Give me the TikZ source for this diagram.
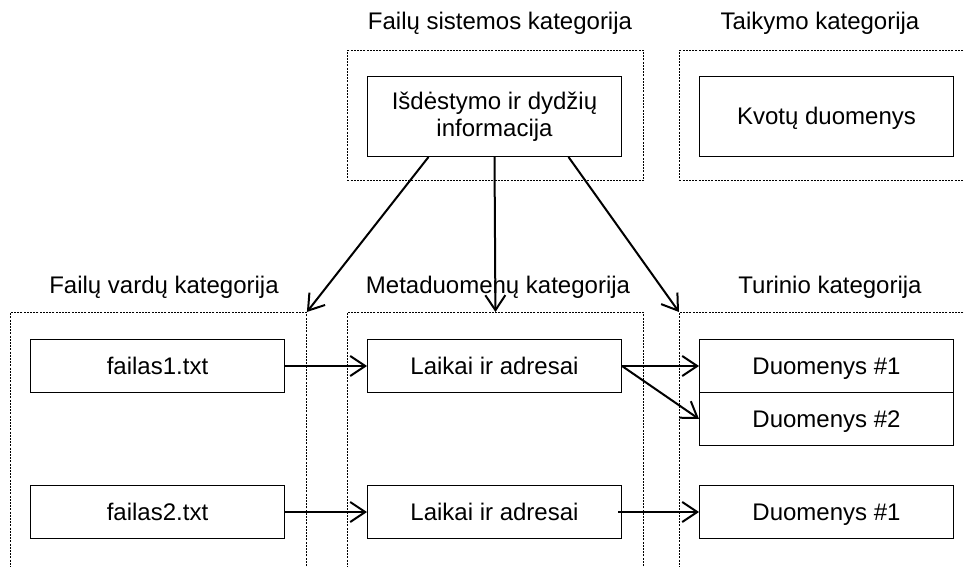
\documentclass[tikz,border=0pt]{standalone}
\usepackage{fontspec}
\setmainfont{Liberation Sans}
\usetikzlibrary{arrows.meta,calc}

\begin{document}
\begin{tikzpicture}[x=1pt,y=-1pt,
  txt/.style={font=\fontsize{24}{27}\selectfont},
  box/.style={txt, draw, line width=1pt, minimum width=254pt, minimum height=53pt,
              inner sep=0pt, align=center, anchor=north west,
              text height=17pt, text depth=0pt},
  zone/.style={draw, line width=0.9pt, dash pattern=on 2pt off 1.2pt,
               minimum width=296pt, inner sep=0pt, anchor=north west},
  title/.style={txt, inner sep=0pt, anchor=base},
  link/.style={line width=2pt, -{Straight Barb[length=15pt,width=20pt,line width=2pt]}}
]
\useasboundingbox (0,0) rectangle (964,567);
\clip (0,0) rectangle (964,567);

% category frames
\node[zone, minimum height=130pt] (zfs) at (347,50) {};
\node[zone, minimum height=130pt, minimum width=320pt] (zapp) at (679,50) {};
\node[zone, minimum height=300pt] (znames) at (10,312) {};
\node[zone, minimum height=300pt] (zmeta) at (347,312) {};
\node[zone, minimum height=300pt, minimum width=320pt] (zcont) at (679,312) {};

% category titles
\node[title] (tfs) at (500,30) {Failų sistemos kategorija};
\node[title] (tapp) at (820,30) {Taikymo kategorija};
\node[title] (tnames) at (164,293) {Failų vardų kategorija};
\node[title] (tmeta) at (498,293) {Metaduomenų kategorija};
\node[title] (tcont) at (830,293) {Turinio kategorija};

% data boxes
\node[box, minimum height=80pt, text height={}, text depth={}] (info) at (367,76)
  {Išdėstymo ir dydžių\\informacija};
\node[box, minimum height=80pt] (quota) at (699,76) {Kvotų duomenys};

\node[box] (f1) at (30,339) {failas1.txt};
\node[box] (f2) at (30,485) {failas2.txt};
\node[box] (l1) at (367,339) {Laikai ir adresai};
\node[box] (l2) at (367,485) {Laikai ir adresai};
\node[box] (d1) at (699,339) {Duomenys \#1};
\node[box] (d2) at (699,392) {Duomenys \#2};
\node[box] (d3) at (699,485) {Duomenys \#1};

% connectors
\draw[link] ($(info.south)+(-66,0)$) -- (znames.north east);
\draw[link] (info.south) -- (zmeta.north);
\draw[link] ($(info.south)+(74,0)$) -- (zcont.north west);

\draw[link] (f1.east) -- (l1.west);
\draw[link] (f2.east) -- (l2.west);
\draw[link] (l1.east) -- (d1.west);
\draw[link] (l1.east) -- (d2.west);
\draw[link] ($(l2.east)+(-4,0)$) -- (d3.west);
\end{tikzpicture}
\end{document}
